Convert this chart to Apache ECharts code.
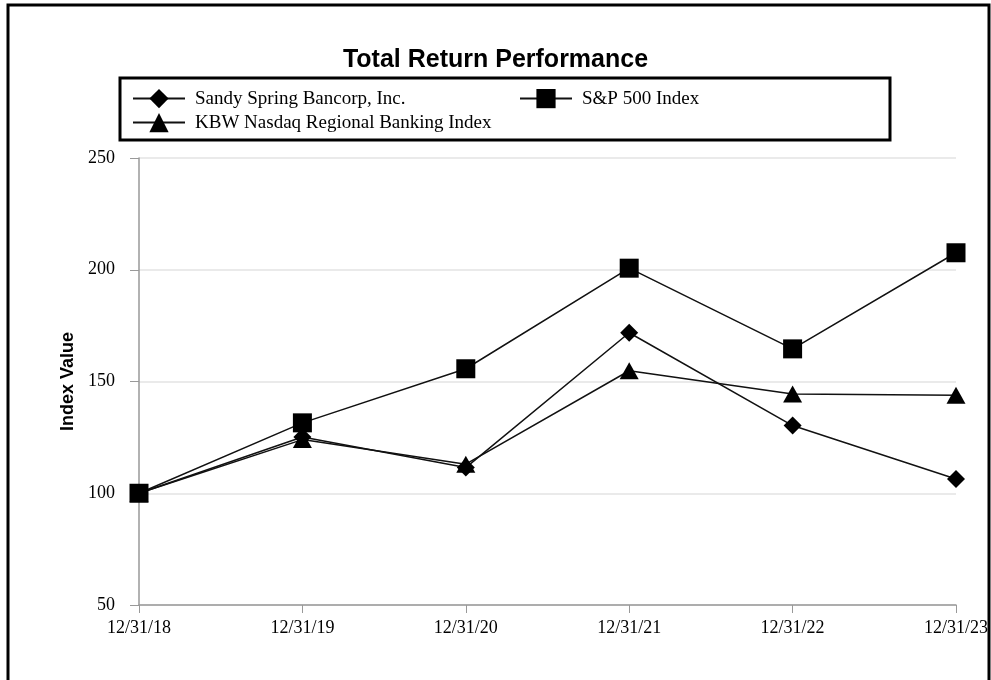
<!DOCTYPE html>
<html>
<head>
<meta charset="utf-8">
<script src="https://cdn.jsdelivr.net/npm/echarts@6/dist/echarts.min.js"></script>
<style>
  html, body { margin: 0; padding: 0; background: #fff; }
  #chart { width: 991px; height: 680px; }
</style>
</head>
<body>
<div id="chart"></div>
<script>
var dates = ['12/31/18', '12/31/19', '12/31/20', '12/31/21', '12/31/22', '12/31/23']

var sandySpring = [100, 125.2, 111.5, 171.8, 130.3, 106.4]
var sp500 = [100, 131.5, 155.7, 200.7, 164.6, 207.6]
var kbwRegional = [100, 124.0, 113.0, 154.8, 144.4, 143.8]

var yTicks = { min: 50, max: 250, interval: 50 }

var serif = '"Liberation Serif", "Times New Roman", serif'
var sans = '"Liberation Sans", Arial, sans-serif'

function lineSeries (name, values, symbol, size) {
  return {
    name: name,
    type: 'line',
    data: values,
    symbol: symbol,
    symbolSize: size,
    showAllSymbol: true,
    lineStyle: { color: '#111', width: 1.5 },
    itemStyle: { color: '#000', borderWidth: 0 },
    emphasis: { disabled: true },
    animation: false
  }
}

// one legend per entry so each sits where the reference puts it
function legendItem (name, left, top) {
  return {
    left: left,
    top: top,
    itemWidth: 52,
    itemHeight: 24,
    padding: 0,
    selectedMode: false,
    textStyle: { fontFamily: serif, fontSize: 19, color: '#000', padding: [0, 0, 0, 5] },
    data: [name]
  }
}

var chart = echarts.init(document.getElementById('chart'))

chart.setOption({
  backgroundColor: '#fff',
  animation: false,
  title: {
    text: 'Total Return Performance',
    left: 'center',
    top: 43,
    textStyle: { fontFamily: sans, fontWeight: 'bold', fontSize: 25, color: '#000' }
  },
  graphic: [
    {
      type: 'rect',
      shape: { x: 8, y: 5, width: 981, height: 700 },
      style: { fill: 'none', stroke: '#000', lineWidth: 3 },
      silent: true
    },
    {
      type: 'rect',
      shape: { x: 120, y: 78, width: 770, height: 62 },
      style: { fill: 'none', stroke: '#000', lineWidth: 3 },
      silent: true
    }
  ],
  legend: [
    legendItem('Sandy Spring Bancorp, Inc.', 132, 89),
    legendItem('S&P 500 Index', 519, 89),
    legendItem('KBW Nasdaq Regional Banking Index', 132, 113)
  ],
  grid: { left: 139, right: 34, top: 158, bottom: 75 },
  xAxis: {
    type: 'category',
    data: dates,
    boundaryGap: false,
    axisLine: { lineStyle: { color: '#999', width: 1.5 } },
    axisTick: { show: true, alignWithLabel: true, length: 8, lineStyle: { color: '#999' } },
    axisLabel: { fontFamily: serif, fontSize: 18, color: '#000', margin: 14 },
    splitLine: { show: false }
  },
  yAxis: {
    type: 'value',
    min: yTicks.min,
    max: yTicks.max,
    interval: yTicks.interval,
    name: 'Index Value',
    nameLocation: 'middle',
    nameGap: 62,
    nameTextStyle: { fontFamily: sans, fontWeight: 'bold', fontSize: 18, color: '#000' },
    axisLine: { show: true, lineStyle: { color: '#999', width: 1.5 } },
    axisTick: { show: true, length: 9, lineStyle: { color: '#999' } },
    axisLabel: { fontFamily: serif, fontSize: 18, color: '#000', margin: 24 },
    splitLine: { lineStyle: { color: '#e3e3e3', width: 1.5 } }
  },
  series: [
    lineSeries('KBW Nasdaq Regional Banking Index', kbwRegional, 'triangle', [19, 17]),
    lineSeries('Sandy Spring Bancorp, Inc.', sandySpring, 'diamond', 18),
    lineSeries('S&P 500 Index', sp500, 'rect', 19)
  ]
})
</script>
</body>
</html>
